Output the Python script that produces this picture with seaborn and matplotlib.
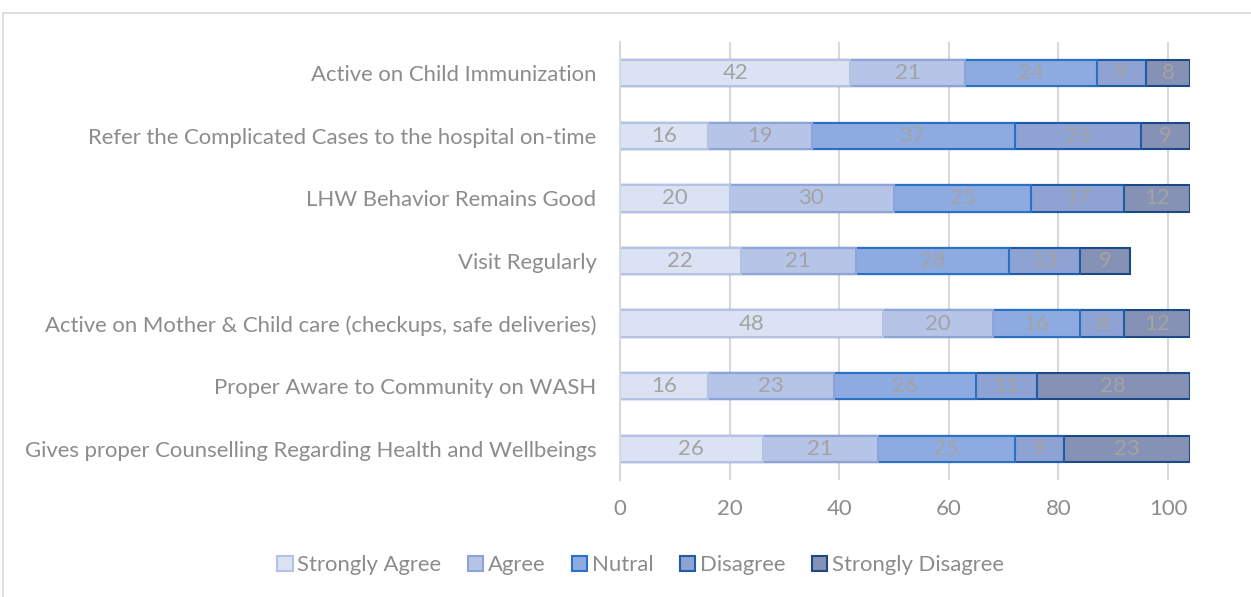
import matplotlib
matplotlib.use("Agg")
import matplotlib.pyplot as plt
from matplotlib.patches import Rectangle, Patch
import numpy as np
import pandas as pd
import seaborn as sns

# data
statements = [
    "Active on Child Immunization",
    "Refer the Complicated Cases to the hospital on-time",
    "LHW Behavior Remains Good",
    "Visit Regularly",
    "Active on Mother & Child care (checkups, safe deliveries)",
    "Proper Aware to Community on WASH",
    "Gives proper Counselling Regarding Health and Wellbeings",
]
responses = ["Strongly Agree", "Agree", "Nutral", "Disagree", "Strongly Disagree"]
strongly_agree = [42, 16, 20, 22, 48, 16, 26]
agree = [21, 19, 30, 21, 20, 23, 21]
nutral = [24, 37, 25, 28, 16, 26, 25]
disagree = [9, 23, 17, 13, 8, 11, 9]
strongly_disagree = [8, 9, 12, 9, 12, 28, 23]

fills = ["#dae2f3", "#b6c4e7", "#8dabe0", "#8ea3d3", "#8692b5"]
edges = ["#b4c2e5", "#8ea3d7", "#2a70c4", "#1e5ca8", "#1b4a87"]

TEXT = "#8c8c8c"
GRID = "#d9d9d9"
FS = 15.9

vals = np.array([strongly_agree, agree, nutral, disagree, strongly_disagree])
cum = vals.cumsum(axis=0)

sns.set_theme(style="white")
plt.rcParams["font.family"] = ["Lato", "DejaVu Sans"]

fig = plt.figure(figsize=(12.51, 5.97), dpi=100)
ax = fig.add_axes([620 / 1251, 1 - 480 / 597, (1190 - 620) / 1251, (480 - 42) / 597])

# stacked bars: draw cumulative totals from the longest down
for i in range(len(responses) - 1, -1, -1):
    df = pd.DataFrame({"statement": statements, "total": cum[i]})
    sns.barplot(data=df, y="statement", x="total", orient="h", ax=ax,
                color=fills[i], edgecolor=edges[i], linewidth=1.5,
                width=0.42, saturation=1, zorder=3)

# value labels in each segment
for i in range(len(responses)):
    for j in range(len(statements)):
        mid = cum[i, j] - vals[i, j] / 2
        ax.text(mid, j, str(vals[i, j]), ha="center", va="center",
                fontsize=FS, color="#a3a3a3", zorder=5)

ax.set_xlim(0, 104)
ax.set_ylim(6.5, -0.5)
ax.set_xticks(range(0, 101, 20))
ax.set_xlabel("")
ax.set_ylabel("")
ax.grid(axis="x", color=GRID, linewidth=1.5, zorder=0)
ax.grid(axis="y", visible=False)
for s in ["top", "right", "bottom"]:
    ax.spines[s].set_visible(False)
ax.spines["left"].set_color(GRID)
ax.spines["left"].set_linewidth(1.5)
ax.spines["left"].set_zorder(4)
ax.tick_params(axis="x", length=4, width=1.5, color=GRID, pad=10,
               labelsize=FS, labelcolor=TEXT)
ax.tick_params(axis="y", length=0, pad=17, labelsize=FS, labelcolor=TEXT)

handles = [Patch(facecolor=f, edgecolor=e, linewidth=1.5) for f, e in zip(fills, edges)]
fig.legend(handles, responses, loc="center", bbox_to_anchor=(0.512, 1 - 565 / 597),
           ncol=5, frameon=False, fontsize=FS, labelcolor=TEXT,
           handlelength=0.7, handleheight=0.7, handletextpad=0.2, columnspacing=1.2)

# chart border
fig.add_artist(Rectangle((3 / 1251, -0.2), 1.5, 1.2 - 13 / 597,
                         transform=fig.transFigure, fill=False,
                         edgecolor=GRID, linewidth=1.2))

fig.savefig("out.png", dpi=100)
